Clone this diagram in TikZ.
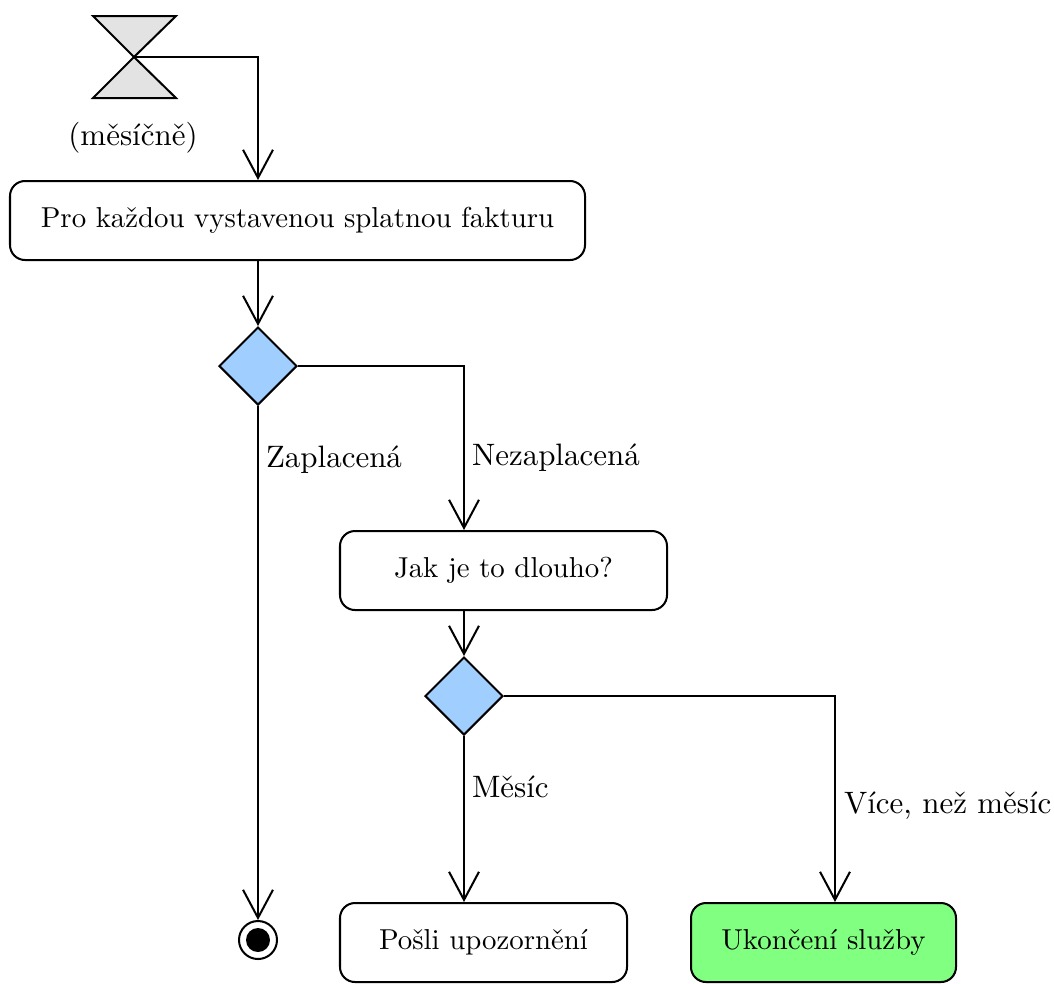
\documentclass[tikz,border=0pt]{standalone}
\usetikzlibrary{arrows.meta,shapes.geometric}
\newdimen\pxu
\pxu=0.347pt
\definecolor{decfill}{HTML}{A0CFFF}
\definecolor{endfill}{HTML}{80FF80}
\definecolor{timefill}{HTML}{E3E3E3}
\begin{document}
\begin{tikzpicture}[x=\pxu,y=-\pxu,
  line width=0.7pt,
  action/.style={draw,rounded corners=5.2pt,minimum height={79*\pxu},inner sep=0pt,font=\normalsize},
  decision/.style={draw,diamond,fill=decfill,minimum width={78*\pxu},minimum height={78*\pxu},inner sep=0pt},
  flow/.style={-{Straight Barb[length=9.75pt,width=10.4pt,line width=0.7pt]}},
  labelfont/.style={font=\fontsize{10.75pt}{13pt}\selectfont},
  guard/.style={labelfont,anchor=west,inner sep=0pt}]
\useasboundingbox (0,0) rectangle (1054,983);

% time event (hourglass)
\filldraw[fill=timefill,line join=miter] (93,16) -- (176,16) -- (134,57) -- cycle;
\filldraw[fill=timefill,line join=miter] (93,98) -- (176,98) -- (134,57) -- cycle;
\coordinate (hg) at (134,57);
\node[labelfont] (hglabel) at (133,138) {(měsíčně)};

% actions
\node[action,minimum width={575*\pxu}] (b1) at (297.5,220.5) {Pro každou vystavenou splatnou fakturu};
\node[action,minimum width={327*\pxu}] (b2) at (503.5,570.5) {Jak je to dlouho?};
\node[action,minimum width={287*\pxu}] (b3) at (483.5,942.5) {Pošli upozornění};
\node[action,minimum width={265*\pxu},fill=endfill] (b4) at (823.5,942.5) {Ukončení služby};

% decisions
\node[decision] (d1) at (258,366) {};
\node[decision] (d2) at (464,696) {};

% final node
\node[draw,circle,fill=white,minimum size={38*\pxu},inner sep=0pt] (fin) at (258,940) {};
\fill (fin.center) circle[radius=12];

% flows
\draw[flow] (hg) -| (b1.north -| d1.north);
\draw[flow] (b1.south -| d1.north) -- (d1.north);
\draw[flow] (d1.south) -- (fin.north);
\draw[flow] (d1.east) -| (b2.north -| d2.north);
\draw[flow] (b2.south -| d2.north) -- (d2.north);
\draw[flow] (d2.south) -- (b3.north -| d2.south);
\draw[flow] (d2.east) -| (b4.north -| 835,0);

% guards
\node[guard] (g1) at (265,460) {Zaplacená};
\node[guard] (g2) at (471,458) {Nezaplacená};
\node[guard] (g3) at (471,787) {Měsíc};
\node[guard] (g4) at (843,806) {Více, než měsíc};
\end{tikzpicture}
\end{document}
